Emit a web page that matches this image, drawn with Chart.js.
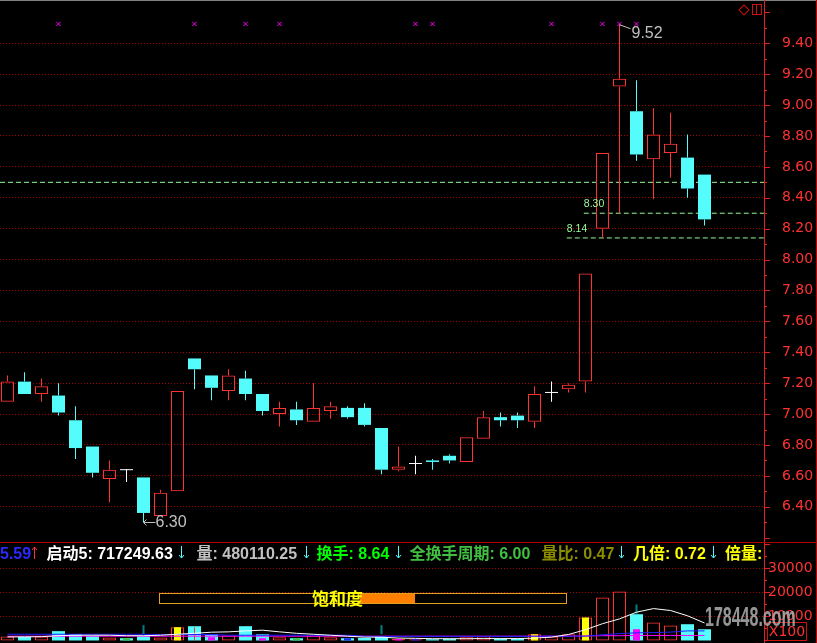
<!DOCTYPE html>
<html>
<head>
<meta charset="utf-8">
<script src="https://cdn.jsdelivr.net/npm/chart.js@4.4.1/dist/chart.umd.min.js"></script>
<style>
  body { margin: 0; background: #000; width: 817px; height: 643px; overflow: hidden; position: relative;
         font-family: "Liberation Sans", "Noto Sans CJK SC", sans-serif; }
  canvas { position: absolute; left: 0; }
  .abs { position: absolute; }
  .info { position: absolute; top: 545px; line-height: 17px; font-size: 16px; font-weight: bold; white-space: nowrap; }
</style>
</head>
<body>
<canvas id="price" width="817" height="542" style="top:0"></canvas>
<canvas id="volume" width="817" height="100" style="top:543px"></canvas>
<div id="overlay"></div>
<script>
// daily candles, oldest first
const OPEN  = [7.08, 7.21, 7.13, 7.12, 6.96, 6.79, 6.58, 6.64, 6.59, 6.34, 6.50, 7.36, 7.25, 7.15, 7.23, 7.13, 7.00, 7.03, 6.95, 7.02, 7.04,
               7.04, 6.91, 6.64, 6.68, 6.70, 6.73, 6.69, 6.84, 6.98, 6.99, 6.95, 7.14, 7.16, 7.21, 8.20, 9.12, 8.96, 8.65, 8.69, 8.66, 8.55];
const HIGH  = [7.25, 7.27, 7.23, 7.20, 7.05, 6.79, 6.70, 6.645, 6.59, 6.51, 7.15, 7.36, 7.25, 7.29, 7.28, 7.13, 7.08, 7.08, 7.20, 7.08, 7.05,
               7.07, 6.91, 6.79, 6.73, 6.71, 6.74, 6.85, 7.02, 7.01, 7.01, 7.18, 7.21, 7.20, 7.91, 8.69, 9.52, 9.16, 8.98, 8.95, 8.81, 8.55];
const LOW   = [7.08, 7.13, 7.08, 6.99, 6.71, 6.59, 6.43, 6.56, 6.30, 6.34, 6.50, 7.16, 7.09, 7.09, 7.09, 6.99, 6.92, 6.93, 6.95, 6.97, 6.97,
               6.92, 6.61, 6.63, 6.61, 6.64, 6.68, 6.69, 6.84, 6.92, 6.91, 6.91, 7.08, 7.14, 7.14, 8.14, 8.30, 8.64, 8.39, 8.53, 8.40, 8.22];
const CLOSE = [7.21, 7.13, 7.18, 7.01, 6.78, 6.62, 6.64, 6.64, 6.36, 6.49, 7.15, 7.29, 7.17, 7.25, 7.13, 7.02, 7.04, 6.96, 7.04, 7.05, 6.98,
               6.93, 6.64, 6.66, 6.68, 6.69, 6.70, 6.85, 6.98, 6.96, 6.96, 7.13, 7.14, 7.19, 7.91, 8.69, 9.17, 8.68, 8.81, 8.75, 8.46, 8.26];

const MARKERS = [3, 11, 14, 16, 24, 25, 32, 35, 36, 37];
const MARKER_PRICE = 9.525;
const PRICE_TICKS = [6.4, 6.6, 6.8, 7.0, 7.2, 7.4, 7.6, 7.8, 8.0, 8.2, 8.4, 8.6, 8.8, 9.0, 9.2, 9.4];
const LEVELS = [8.50, 8.30, 8.14];
const LEVEL_START = [null, 33.9, 32.9];

// volume panel (x100)
const VOLUME = [1700, 1500, 1700, 3900, 2600, 1900, 1250, 950, 1800, 1250, 5540, 5960, 2600, 2080, 5960, 2600, 1375, 950, 2080, 1375, 950,
                1080, 1800, 670, 540, 540, 670, 1375, 1800, 670, 670, 2600, 1670, 2600, 9580, 17900, 20400, 10960, 7500, 6250, 6790, 4700];
const VOL_DIR = ['u','d','u','d','d','d','u','d','d','u','u','d','d','u','d','d','u','d','u','u','d',
                 'd','d','u','u','d','d','u','u','d','d','u','u','u','u','u','u','d','u','u','d','d'];
const INNER_INDEX = [7, 10, 12, 15, 17, 20, 23, 24, 31, 34, 37];
const INNER_VALUE = [950, 5540, 1375, 950, 950, 950, 670, 540, 2600, 9580, 4700];
const INNER_KIND  = ['green', 'yellow', 'magenta', 'magenta', 'green', 'blue', 'magenta', 'blue', 'yellow', 'yellow', 'magenta'];
const STICK_INDEX = [8, 22, 37];
const STICK_LO = [2600, 2600, 10960];
const STICK_HI = [6400, 6400, 15000];
const THIN_INDEX = [11, 26];
const THIN_VALUE = [5540, 300];
const VOL_MA = [1500, 1500, 1600, 2000, 2200, 2200, 2200, 2000, 2000, 2200, 2600, 3000, 3460, 3600, 4000, 4300, 3600, 3000, 2600, 2200, 1800,
                1400, 1375, 1000, 900, 750, 750, 750, 800, 800, 800, 1000, 1400, 2500, 4500, 7000, 9000, 11800, 13300, 12500, 10300, 7300];
const VOL_BLUE = [2600, 2600, 2600, 2600, 2600, 2600, 2600, 2600, 2600, 2500, 2500, 2500, 2500, 2200, 2200, 2200, 2200, 2200, 2200, 2200, 2200,
                  1700, 1700, 1700, 1700, 1700, 1700, 1700, 1700, 1700, 1700, 1800, 1800, 1800, 1800, 2400, 2900, 3200, 3300, 3500, 4000, 4000];
const VOL_PINK = [1800, 1800, 1800, 1800, 1800, 1800, 1800, 1800, 1800, 1800, 1800, 1800, 1800, 1800, 1800, 1800, 1800, 1800, 1800, 1800, 1800,
                  1800, 1800, 1800, 1800, 1800, 1800, 1800, 1800, 1800, 1800, 1800, 1800, 1800, 1900, 2000, 2000, 2100, 2100, 2100, 2100, 2100];
const VOL_TICKS = [10000, 20000, 30000];

const RED = '#ff3232', CYAN = '#54fcfc', WHITE = '#ffffff', GRID = '#a00000', LEVEL = '#98fb98';
const KIND_COLOR = { green: '#40c040', yellow: '#ffff00', magenta: '#ff00ff', blue: '#2020ff' };
// 17px per trading day, first candle centred on x = 7.5
const X_MIN = -7.5 / 17, X_MAX = X_MIN + 764 / 17;

const idx = OPEN.map((_, i) => i);
const dir = idx.map(i => CLOSE[i] > OPEN[i] ? 1 : CLOSE[i] < OPEN[i] ? -1 : 0);
const candleColor = i => dir[i] > 0 ? RED : dir[i] < 0 ? CYAN : WHITE;
const bodyLo = idx.map(i => Math.min(OPEN[i], CLOSE[i]));
const bodyHi = idx.map(i => Math.max(OPEN[i], CLOSE[i]));

// right axis tick marks (major + minor), drawn against the scale
const axisTicks = {
  id: 'axisTicks',
  afterDraw(chart, args, opts) {
    const { ctx, chartArea } = chart;
    const y = chart.scales.y;
    ctx.save();
    ctx.strokeStyle = opts.color;
    ctx.lineWidth = 1;
    const k0 = Math.ceil(y.min / opts.minor), k1 = Math.floor(y.max / opts.minor);
    for (let k = k0; k <= k1; k++) {
      const v = k * opts.minor;
      const major = k % Math.round(opts.major / opts.minor) === 0;
      const py = Math.round(y.getPixelForValue(v)) + 0.5;
      ctx.beginPath();
      ctx.moveTo(chartArea.right, py);
      ctx.lineTo(chartArea.right + (major ? 6 : 3), py);
      ctx.stroke();
    }
    ctx.restore();
  }
};

// high / low / level captions
const notes = {
  id: 'notes',
  afterDatasetsDraw(chart) {
    const { ctx } = chart;
    const x = chart.scales.x, y = chart.scales.y;
    ctx.save();
    ctx.strokeStyle = '#c0c0c0';
    ctx.fillStyle = '#c0c0c0';
    ctx.lineWidth = 1;
    ctx.font = '16px "Liberation Sans"';
    ctx.textBaseline = 'middle';
    ctx.textAlign = 'left';

    const hi = HIGH.indexOf(Math.max(...HIGH));
    const hx = x.getPixelForValue(hi), hy = y.getPixelForValue(HIGH[hi]);
    ctx.beginPath(); ctx.moveTo(hx, hy); ctx.lineTo(hx + 11, hy + 4); ctx.stroke();
    ctx.fillText(HIGH[hi].toFixed(2), hx + 12, hy + 9);

    const lo = LOW.indexOf(Math.min(...LOW));
    const lx = x.getPixelForValue(lo), ly = Math.round(y.getPixelForValue(LOW[lo])) + 0.5;
    ctx.beginPath();
    ctx.moveTo(lx + 12, ly); ctx.lineTo(lx, ly);
    ctx.moveTo(lx + 3, ly - 3); ctx.lineTo(lx, ly); ctx.lineTo(lx + 3, ly + 3);
    ctx.stroke();
    ctx.fillText(LOW[lo].toFixed(2), lx + 12, ly);

    ctx.fillStyle = LEVEL;
    ctx.font = '10.5px "Liberation Sans"';
    LEVELS.forEach((v, i) => {
      if (LEVEL_START[i] === null) return;
      ctx.fillText(v.toFixed(2), x.getPixelForValue(LEVEL_START[i]), y.getPixelForValue(v) - 9);
    });
    ctx.restore();
  }
};

const fixedAxis = (scale) => { scale.width = 53; scale.paddingTop = 0; scale.paddingBottom = 0; };
const axisFont = { family: 'DejaVu Sans', size: 14 };

new Chart(document.getElementById('price'), {
  type: 'bar',
  data: {
    datasets: [
      { type: 'line', order: 1, showLine: false, data: MARKERS.map(i => ({ x: i, y: MARKER_PRICE })),
        pointStyle: 'crossRot', pointRadius: 3, pointBorderColor: '#ff00ff', pointBorderWidth: 1 },
      ...LEVELS.map((v, i) => ({
        type: 'line', order: 5, data: [{ x: LEVEL_START[i] === null ? X_MIN : LEVEL_START[i], y: v }, { x: X_MAX, y: v }],
        borderColor: LEVEL, borderWidth: 1, borderDash: [5, 3], pointRadius: 0
      })),
      { order: 3, grouped: false, barThickness: 1, inflateAmount: 0, borderWidth: 0,
        data: idx.map(i => ({ x: i, y: [bodyHi[i], HIGH[i]] })), backgroundColor: idx.map(candleColor) },
      { order: 3, grouped: false, barThickness: 1, inflateAmount: 0, borderWidth: 0,
        data: idx.map(i => ({ x: i, y: [LOW[i], bodyLo[i]] })), backgroundColor: idx.map(candleColor) },
      { order: 2, grouped: false, barThickness: 13, inflateAmount: 0, borderSkipped: false,
        data: idx.map(i => {
          let a = bodyLo[i], b = bodyHi[i];
          if (b - a < 0.0065) { const m = (a + b) / 2; a = m - 0.00325; b = m + 0.00325; }
          return { x: i, y: [a, b] };
        }),
        backgroundColor: idx.map(i => dir[i] > 0 ? 'rgba(0,0,0,0)' : candleColor(i)),
        borderColor: idx.map(candleColor),
        borderWidth: idx.map(i => dir[i] > 0 ? 1 : 0) }
    ]
  },
  options: {
    responsive: false, animation: false, devicePixelRatio: 1, events: [],
    layout: { padding: 0, autoPadding: false },
    plugins: { legend: { display: false }, tooltip: { enabled: false },
               axisTicks: { major: 0.2, minor: 0.1, color: '#e02020' } },
    scales: {
      x: { type: 'linear', min: X_MIN, max: X_MAX, offset: false, display: false },
      y: { position: 'right', min: 6.172, max: 9.680,
           afterBuildTicks: s => { s.ticks = PRICE_TICKS.map(v => ({ value: v })); },
           afterFit: fixedAxis,
           grid: { color: GRID, lineWidth: 1, drawTicks: false },
           border: { display: false, dash: [1, 2] },
           ticks: { padding: 18, color: RED, font: axisFont, callback: v => Number(v).toFixed(2) } }
    }
  },
  plugins: [axisTicks, notes]
});

new Chart(document.getElementById('volume'), {
  type: 'bar',
  data: {
    datasets: [
      { type: 'line', order: 1, data: idx.map(i => ({ x: i, y: VOL_MA[i] })), borderColor: '#ffffff', borderWidth: 1, pointRadius: 0 },
      { type: 'line', order: 1, data: idx.map(i => ({ x: i, y: VOL_BLUE[i] })), borderColor: '#2020ff', borderWidth: 1, pointRadius: 0 },
      { type: 'line', order: 1, data: idx.map(i => ({ x: i, y: VOL_PINK[i] })), borderColor: '#ff00ff', borderWidth: 1, pointRadius: 0 },
      { order: 2, grouped: false, barThickness: 2, inflateAmount: 0, borderWidth: 0, backgroundColor: '#008080',
        data: STICK_INDEX.map((i, k) => ({ x: i, y: [STICK_LO[k], STICK_HI[k]] })) },
      { order: 2, grouped: false, barThickness: 1, inflateAmount: 0, borderWidth: 0, backgroundColor: RED,
        data: THIN_INDEX.map((i, k) => ({ x: i, y: THIN_VALUE[k] })) },
      { order: 3, grouped: false, barThickness: 7, inflateAmount: 0, borderWidth: 0,
        data: INNER_INDEX.map((i, k) => ({ x: i, y: INNER_VALUE[k] })),
        backgroundColor: INNER_KIND.map(k => KIND_COLOR[k]) },
      { order: 4, grouped: false, barThickness: 13, inflateAmount: 0, borderSkipped: false,
        data: idx.map(i => ({ x: i, y: VOLUME[i] })),
        backgroundColor: VOL_DIR.map(d => d === 'u' ? 'rgba(0,0,0,0)' : CYAN),
        borderColor: VOL_DIR.map(d => d === 'u' ? RED : CYAN),
        borderWidth: VOL_DIR.map(d => d === 'u' ? 1 : 0) }
    ]
  },
  options: {
    responsive: false, animation: false, devicePixelRatio: 1, events: [],
    layout: { padding: 0, autoPadding: false },
    plugins: { legend: { display: false }, tooltip: { enabled: false },
               axisTicks: { major: 10000, minor: 5000, color: '#e02020' } },
    scales: {
      x: { type: 'linear', min: X_MIN, max: X_MAX, offset: false, display: false },
      y: { position: 'right', min: -1042, max: 40625,
           afterBuildTicks: s => { s.ticks = VOL_TICKS.map(v => ({ value: v })); },
           afterFit: fixedAxis,
           grid: { color: GRID, lineWidth: 1, drawTicks: false },
           border: { display: false, dash: [1, 2] },
           ticks: { padding: 4, color: RED, font: axisFont, callback: v => String(v) } }
    }
  },
  plugins: [axisTicks]
});

// frame, info line and panel decorations
const overlay = document.getElementById('overlay');
function box(css) {
  const d = document.createElement('div');
  d.className = 'abs';
  d.style.cssText += css;
  overlay.appendChild(d);
  return d;
}
box('left:0;top:0;width:817px;height:1px;background:#808080');
box('left:764px;top:0;width:1px;height:643px;background:#e02020');
box('left:816px;top:0;width:1px;height:643px;background:#c00000');
box('left:0;top:542px;width:817px;height:1px;background:#b00000');
box('left:740px;top:6px;width:6px;height:6px;border:1px solid #d01010;transform:rotate(45deg)');
box('left:752px;top:4px;width:8px;height:9px;border:1px solid #d01010');
box('left:756px;top:5px;width:1px;height:9px;background:#d01010');

function arrow(x, up, color) {
  const path = up ? 'M3.5 1V13 M1 4L3.5 1L6 4' : 'M3.5 0V12 M1 9L3.5 12L6 9';
  const d = box(`left:${x}px;top:545px;width:7px;height:13px`);
  d.innerHTML = `<svg width="7" height="13"><path d="${path}" stroke="${color}" stroke-width="1" fill="none"/></svg>`;
}
const INFO = [
  [0, '5.59', '#2a2aff'], [46.5, '启动5: 717249.63', '#ffffff'], [196.5, '量: 480110.25', '#c0c0c0'],
  [316.5, '换手: 8.64', '#00ff00'], [409.5, '全换手周期: 6.00', '#40c040'], [541.5, '量比: 0.47', '#8c8c00'],
  [633, '几倍: 0.72', '#ffff00'], [725, '倍量:', '#ffff00']
];
INFO.forEach(([x, t, c]) => {
  const d = document.createElement('div');
  d.className = 'info';
  d.style.left = x + 'px';
  d.style.color = c;
  d.textContent = t;
  overlay.appendChild(d);
});
arrow(31, true, RED);
[178, 303, 395, 618, 710].forEach(x => arrow(x, false, CYAN));

// saturation gauge
box('left:159px;top:593px;width:406px;height:9px;border:1px solid #e0a020');
box('left:360px;top:594px;width:55px;height:9px;background:#ff8000');
const sat = box('left:312px;top:588px;font:bold 17px "Noto Sans CJK SC";line-height:20px;color:#ffff00');
sat.textContent = '饱和度';

// volume unit box and watermark
const unit = box('left:767px;top:622px;width:38px;height:17px;border:1px solid #d01010;color:#ff3232;font:14px "DejaVu Sans";line-height:17px;text-align:center');
unit.textContent = 'X100';
const wm = box('left:705px;top:604px;font:bold 16px "Liberation Sans";line-height:16px;color:#b0b0b0;opacity:0.85;transform:scale(1,1.7);transform-origin:0 0');
wm.textContent = '178448.com';
</script>
</body>
</html>
